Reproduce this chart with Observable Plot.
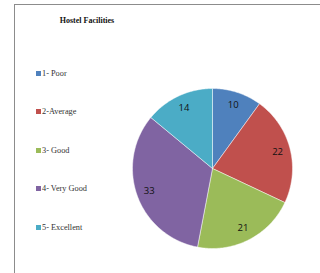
<!DOCTYPE html>
<html>
<head>
<meta charset="utf-8">
<script src="https://cdn.jsdelivr.net/npm/d3@7"></script>
<script src="https://cdn.jsdelivr.net/npm/@observablehq/plot@0.6"></script>
<style>
  html, body { margin: 0; padding: 0; background: #fff; }
  #wrap { position: relative; width: 320px; height: 273px; overflow: hidden; }
  #frame { position: absolute; left: 14px; top: 4px; width: 320px; height: 300px;
           border-left: 1.5px solid #8c8c8c; border-top: 1.5px solid #8c8c8c; box-sizing: border-box; }
  #title { position: absolute; left: 14px; width: 146px; top: 16px; text-align: center;
           font: bold 8px "Liberation Serif", "Times New Roman", serif; color: #111; }
  .leg { position: absolute; left: 36px; font: 8.3px "Liberation Serif", "Times New Roman", serif;
         color: #333; white-space: nowrap; line-height: 9px; }
  .leg span.sw { display: inline-block; width: 5px; height: 5px; margin-right: 1px; vertical-align: 0px; }
  #chart { position: absolute; left: 0; top: 0; }
</style>
</head>
<body>
<div id="wrap">
  <div id="frame"></div>
  <div id="chart"></div>
  <div id="title">Hostel Facilities</div>
</div>
<script>
const categories = ["1- Poor", "2-Average", "3- Good", "4- Very Good", "5- Excellent"];
const values = [10, 22, 21, 33, 14];
const colors = ["#4F81BD", "#C0504D", "#9BBB59", "#8064A2", "#4BACC6"];

const cx = 212, cy = 168, r = 80;
const W = 320, H = 273;

const data = categories.map((c, i) => ({label: c, value: values[i]}));
const arcs = d3.pie().sort(null).value(d => d.value).startAngle(0).endAngle(2 * Math.PI)(data);

// polygon points for each slice (angle clockwise from 12 o'clock)
const pts = [];
for (const a of arcs) {
  pts.push({label: a.data.label, x: 0, y: 0});
  const n = Math.max(2, Math.ceil((a.endAngle - a.startAngle) / (Math.PI / 180)));
  for (let k = 0; k <= n; k++) {
    const t = a.startAngle + (a.endAngle - a.startAngle) * k / n;
    pts.push({label: a.data.label, x: Math.sin(t), y: Math.cos(t)});
  }
  pts.push({label: a.data.label, x: 0, y: 0});
}
const labels = arcs.map(a => {
  const t = (a.startAngle + a.endAngle) / 2;
  return {label: a.data.label, value: a.data.value, x: 0.84 * Math.sin(t), y: 0.84 * Math.cos(t)};
});

const chart = Plot.plot({
  width: W, height: H,
  margin: 0,
  style: {background: "transparent", overflow: "visible"},
  x: {domain: [-1, 1], range: [cx - r, cx + r], axis: null},
  y: {domain: [-1, 1], range: [cy + r, cy - r], axis: null},
  color: {domain: categories, range: colors},
  marks: [
    Plot.line(pts, {x: "x", y: "y", z: "label", fill: "label", stroke: "#ffffff", strokeWidth: 0.6, strokeOpacity: 0.8, curve: "linear"}),
    Plot.text(labels, {x: "x", y: "y", text: d => String(d.value), fill: "#111",
      fontSize: 9.5, fontFamily: "'Open Sans', 'DejaVu Sans', sans-serif"})
  ]
});
document.getElementById("chart").appendChild(chart);

const legY = [69, 107, 146, 184, 223];
const wrap = document.getElementById("wrap");
categories.forEach((c, i) => {
  const d = document.createElement("div");
  d.className = "leg";
  d.style.top = legY[i] + "px";
  const sw = document.createElement("span");
  sw.className = "sw";
  sw.style.background = colors[i];
  d.appendChild(sw);
  d.appendChild(document.createTextNode(c));
  wrap.appendChild(d);
});
</script>
</body>
</html>
